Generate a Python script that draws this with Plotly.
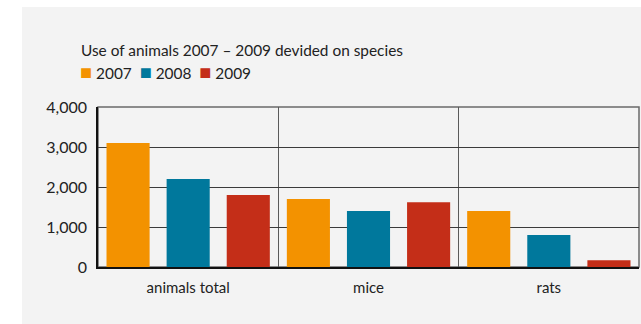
import plotly.graph_objects as go

categories = ["animals total", "mice", "rats"]
series_names = ["2007", "2008", "2009"]
v2007 = [3100, 1700, 1400]
v2008 = [2200, 1400, 800]
v2009 = [1800, 1620, 170]
colors = ["#f39200", "#00789c", "#c42e18"]
title_text = "Use of animals 2007 \u2013 2009 devided on species"

FONT = "Lato"
TXT = "#222222"
PANEL = "#f3f3f3"

fig = go.Figure()
for name, vals, col in zip(series_names, [v2007, v2008, v2009], colors):
    fig.add_trace(go.Bar(x=categories, y=vals, name=name, marker=dict(color=col, line=dict(width=0)),
                         showlegend=False))

W, H = 641, 324
ml, mr, mt, mb = 98, 2, 107, 57
pw, ph = W - ml - mr, H - mt - mb

def px_x(p):
    return (p - ml) / pw

def px_y(p):
    return (H - mb - p) / ph

legend_html = "  ".join(
    f"<span style='color:{c};font-size:20px'>\u25A0</span> {n}" for n, c in zip(series_names, colors)
)

fig.update_layout(
    width=W, height=H,
    margin=dict(l=ml, r=mr, t=mt, b=mb),
    paper_bgcolor="white",
    plot_bgcolor="rgba(0,0,0,0)",
    barmode="group",
    bargap=0.0,
    bargroupgap=0.283,
    font=dict(family=FONT, color=TXT),
    shapes=[
        dict(type="rect", xref="paper", yref="paper", x0=px_x(22), x1=px_x(W + 5),
             y0=px_y(H + 5), y1=px_y(7), fillcolor=PANEL, line=dict(width=0), layer="below"),
        dict(type="rect", xref="paper", yref="paper", x0=0, x1=1, y0=0, y1=1,
             fillcolor="rgba(0,0,0,0)", line=dict(width=1.5, color="#6a6a6a"), layer="below"),
    ],
    annotations=[
        dict(text=title_text, xref="paper", yref="paper", x=px_x(79), y=px_y(50),
             xanchor="left", yanchor="middle", showarrow=False, font=dict(size=15.4, color=TXT, family=FONT)),
        dict(text=legend_html, xref="paper", yref="paper", x=px_x(78), y=px_y(71),
             xanchor="left", yanchor="middle", showarrow=False, font=dict(size=15.4, color=TXT, family=FONT)),
    ],
    xaxis=dict(
        type="category", tickson="boundaries", showgrid=True, gridcolor="#5a5a5a", gridwidth=1.2,
        showline=True, linecolor="#111111", linewidth=1.5, ticks="", ticklen=0,
        tickfont=dict(size=15, color=TXT, family=FONT), ticklabelstandoff=6,
    ),
    yaxis=dict(
        range=[0, 4000], tickvals=[0, 1000, 2000, 3000, 4000], tickformat=",d",
        showgrid=True, gridcolor="#3a3a3a", gridwidth=1, zeroline=False,
        showline=True, linecolor="#111111", linewidth=1.5, ticks="",
        tickfont=dict(size=16, color=TXT, family=FONT), ticklabelstandoff=6,
    ),
)

fig.write_html("out.html")
